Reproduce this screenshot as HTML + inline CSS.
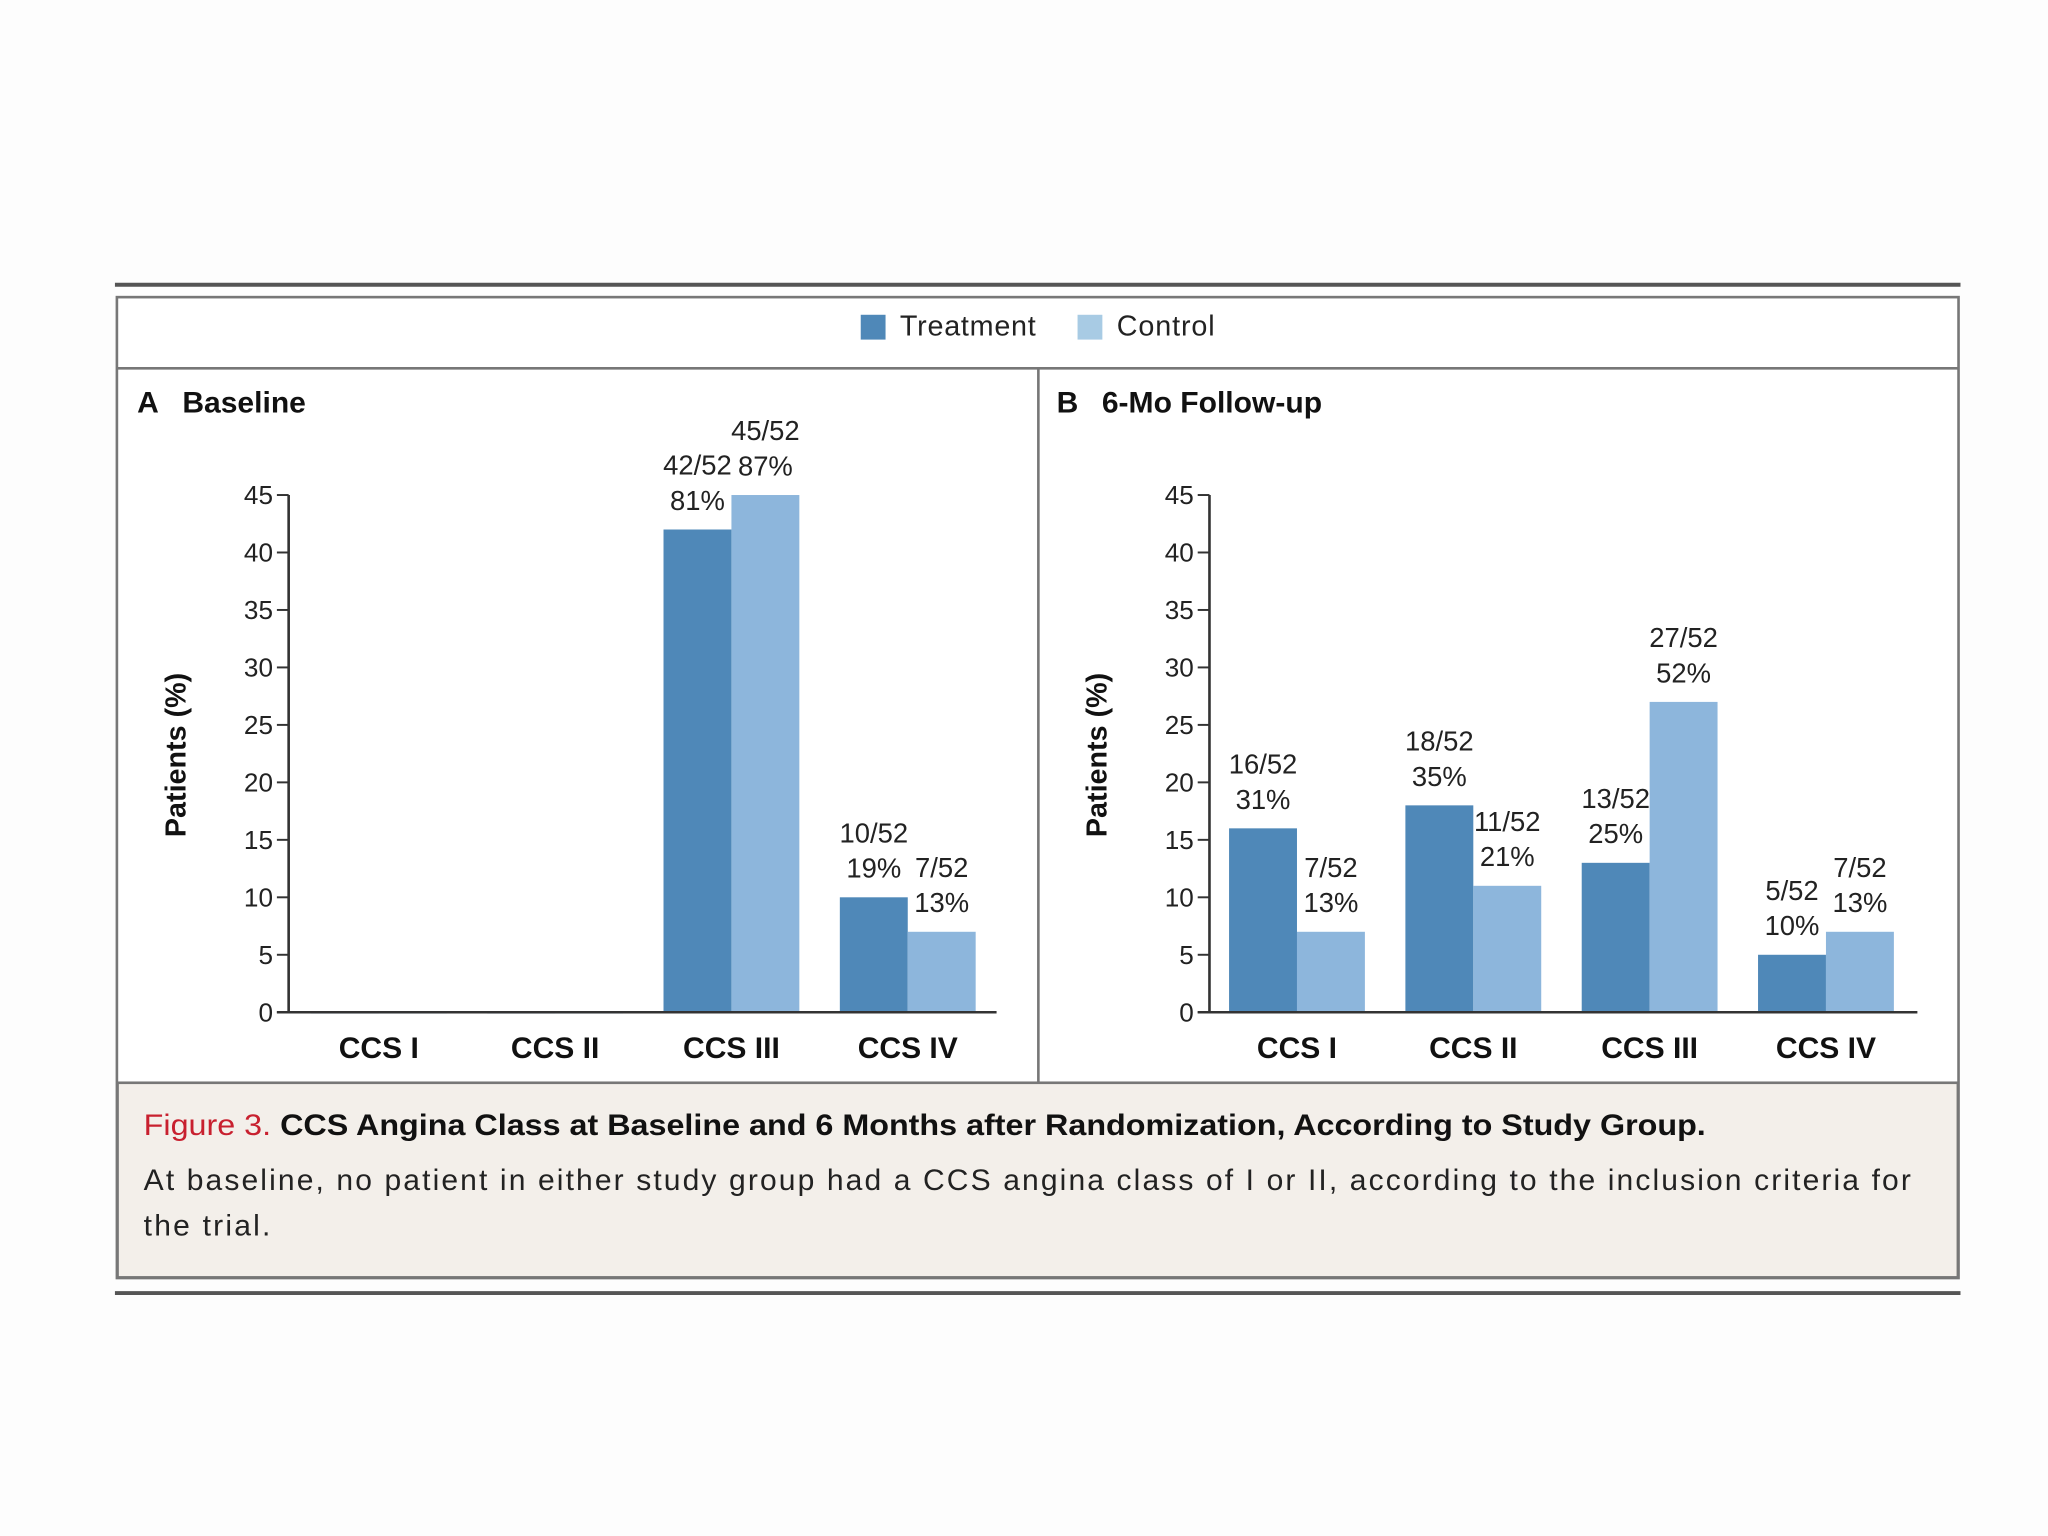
<!DOCTYPE html>
<html><head><meta charset="utf-8"><style>
html,body{margin:0;padding:0;background:#fdfdfd;}
svg{display:block;font-family:"Liberation Sans",sans-serif;}
</style></head><body>
<svg width="2048" height="1536" viewBox="0 0 1568 1176" xmlns="http://www.w3.org/2000/svg">
<rect x="0" y="0" width="1568" height="1176" fill="#fdfdfd"/>
<line x1="88" y1="218" x2="1501" y2="218" stroke="#555" stroke-width="3"/>
<rect x="89.5" y="227.5" width="1410" height="751" fill="#fff" stroke="#777" stroke-width="2"/>
<line x1="89" y1="282" x2="1500" y2="282" stroke="#777" stroke-width="2"/>
<line x1="795" y1="282" x2="795" y2="828" stroke="#777" stroke-width="2"/>
<rect x="90" y="829" width="1409" height="149" fill="#f3efea" stroke="#777" stroke-width="2"/>
<line x1="88" y1="990" x2="1501" y2="990" stroke="#555" stroke-width="3"/>
<g font-size="22" fill="#222">
<rect x="659" y="241" width="19" height="19" fill="#4f88b8"/>
<text x="689" y="257" textLength="104">Treatment</text>
<rect x="825" y="241" width="19" height="19" fill="#a8cbe4"/>
<text x="855" y="257" textLength="75">Control</text>
</g>
<text x="105" y="316" font-size="23" font-weight="bold" fill="#111">A<tspan dx="18">Baseline</tspan></text>
<text x="809" y="316" font-size="23" font-weight="bold" fill="#111">B<tspan dx="18">6-Mo Follow-up</tspan></text>
<g font-size="23">
<text x="110" y="869" font-weight="bold" fill="#111" textLength="1196" lengthAdjust="spacingAndGlyphs"><tspan fill="#c8202f" font-weight="normal">Figure 3.</tspan> CCS Angina Class at Baseline and 6 Months after Randomization, According to Study Group.</text>
<text x="110" y="911" fill="#222" textLength="1353">At baseline, no patient in either study group had a CCS angina class of I or II, according to the inclusion criteria for</text>
<text x="110" y="946" fill="#222" textLength="97">the trial.</text>
</g>
<g id="charts"></g>
</svg>
<script>
const categories = ["CCS I","CCS II","CCS III","CCS IV"];
const ticks = [0,5,10,15,20,25,30,35,40,45];
const baseTreat = [0,0,42,10];
const baseCtrl = [0,0,45,7];
const baseTreatLbl = ["","","42/52|81%","10/52|19%"];
const baseCtrlLbl = ["","","45/52|87%","7/52|13%"];
const fuTreat = [16,18,13,5];
const fuCtrl = [7,11,27,7];
const fuTreatLbl = ["16/52|31%","18/52|35%","13/52|25%","5/52|10%"];
const fuCtrlLbl = ["7/52|13%","11/52|21%","27/52|52%","7/52|13%"];

const NS="http://www.w3.org/2000/svg";
const root=document.getElementById('charts');
function mk(tag,attrs,parent){const e=document.createElementNS(NS,tag);for(const k in attrs)e.setAttribute(k,attrs[k]);(parent||root).appendChild(e);return e;}
function panel(key,axisX,axisEnd,firstCenter,treat,ctrl,tl,cl){
  const g=mk('g',{});
  
  
  const y0=775, scale=8.8, bw=52, step=135;
  const Y=v=>y0-v*scale;
  const X=i=>firstCenter+i*step;
  const yl=mk('text',{x:0,y:0,transform:`translate(${axisX-79},578) rotate(-90)`,'font-size':22,'font-weight':'bold','text-anchor':'middle',fill:'#111'},g);
  yl.textContent='Patients (%)';
  
  
  ticks.forEach(t=>{
    mk('line',{x1:axisX-9,x2:axisX,y1:Y(t),y2:Y(t),stroke:'#333','stroke-width':1.5},g);
    const tx=mk('text',{x:axisX-12,y:Y(t)+7,'font-size':20,'text-anchor':'end',fill:'#222'},g);
    tx.textContent=t;
    
    
  });
  categories.forEach((c,i)=>{
    const cx=X(i);
    [[treat[i],'#4f88b8',cx-bw,tl[i],'treatment'],[ctrl[i],'#8db6dc',cx,cl[i],'control']].forEach(([v,col,x,lab,s])=>{
      const r=mk('rect',{x:x,y:Y(v),width:bw,height:Math.max(v*scale,1),fill:col},g);
      
      
      if(lab){
        const p=lab.split('|');
        p.forEach((line,j)=>{
          const t=mk('text',{x:x+bw/2,y:Y(v)-42+j*27,'font-size':21,'text-anchor':'middle',fill:'#222'},g);
          t.textContent=line;
          
          
        });
      }
    });
    const ct=mk('text',{x:cx,y:810,'font-size':23,'font-weight':'bold','text-anchor':'middle',fill:'#111'},g);
    ct.textContent=c;
    
    
  });
  mk('line',{x1:axisX,x2:axisX,y1:Y(45),y2:y0,stroke:'#333','stroke-width':2},g);
  mk('line',{x1:axisX-9,x2:axisEnd,y1:y0,y2:y0,stroke:'#333','stroke-width':2},g);
}
panel('baseline',221,763,290,baseTreat,baseCtrl,baseTreatLbl,baseCtrlLbl);
panel('followup',926,1468,993,fuTreat,fuCtrl,fuTreatLbl,fuCtrlLbl);
</script>
</body></html>
